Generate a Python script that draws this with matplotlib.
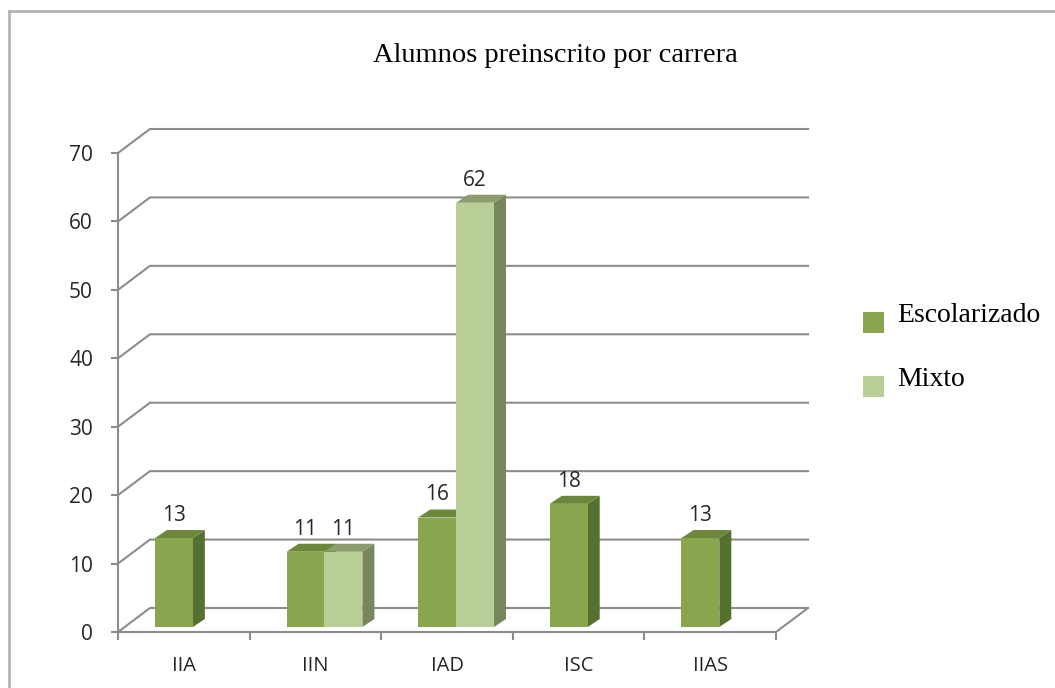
import matplotlib
matplotlib.use("Agg")
import matplotlib.pyplot as plt
from matplotlib.patches import Polygon, Rectangle
from matplotlib.lines import Line2D

plt.rcParams["font.family"] = ["Open Sans", "DejaVu Sans"]

# ── Data ─────────────────────────────────────────────────────────────────────
carreras = ["IIA", "IIN", "IAD", "ISC", "IIAS"]
escolarizado = [13, 11, 16, 18, 13]
mixto = [0, 11, 62, 0, 0]
yticks = [0, 10, 20, 30, 40, 50, 60, 70]

# ── Fake-3D geometry (category units / value units) ──────────────────────────
W, H, DPI = 1055, 688, 100
PX_CAT = 131.8            # px per category
PX_VAL = 6.843            # px per value unit
BACK_DX, BACK_DY = 32 / PX_CAT, 24 / PX_VAL     # back wall offset
BAR_DX, BAR_DY = 12 / PX_CAT, 8 / PX_VAL        # bar depth
BASE = 0.73               # bars sit slightly behind the front floor edge
SLOT0, BW = 0.281, 0.288  # left edge of first slot inside category, bar width

ESC = dict(front="#89A54E", top="#6C873B", side="#56702F")
MIX = dict(front="#B9CE96", top="#8C9C6D", side="#79865B")
GRID = "#8C8C8C"
TXT = "#262626"

fig = plt.figure(figsize=(W / DPI, H / DPI), dpi=DPI)
ax = fig.add_axes([118 / W, (H - 632) / H, 690 / W, 503 / H])
ax.set_xlim(-0.5, 4.5 + BACK_DX)
ax.set_ylim(0, 70 + BACK_DY)
for s in ax.spines.values():
    s.set_visible(False)

# gridlines: short diagonal on the side wall + back wall line
for v in yticks:
    ax.plot([-0.5, -0.5 + BACK_DX, 4.5 + BACK_DX], [v, v + BACK_DY, v + BACK_DY],
            color=GRID, lw=1.5, zorder=1, clip_on=False)
# front axes + floor edge
ax.plot([-0.5, -0.5], [0, 70], color=GRID, lw=1.5, zorder=1, clip_on=False)
ax.plot([-0.5, 4.5, 4.5 + BACK_DX], [0, 0, BACK_DY], color=GRID, lw=1.5, zorder=1, clip_on=False)


def bar3d(x0, v, c):
    b = BASE
    ax.add_patch(Polygon([(x0 + BW, b), (x0 + BW + BAR_DX, b + BAR_DY),
                          (x0 + BW + BAR_DX, b + v + BAR_DY), (x0 + BW, b + v)],
                         closed=True, fc=c["side"], ec="none", zorder=3))
    ax.add_patch(Polygon([(x0, b + v), (x0 + BW, b + v),
                          (x0 + BW + BAR_DX, b + v + BAR_DY), (x0 + BAR_DX, b + v + BAR_DY)],
                         closed=True, fc=c["top"], ec="none", zorder=3))
    ax.bar(x0, v, width=BW, bottom=b, align="edge", color=c["front"], zorder=3)
    ax.text(x0 + BW / 2, b + v + BAR_DY + 0.6, f"{v}", ha="center", va="bottom",
            fontsize=15, color=TXT, zorder=5)


for i in range(len(carreras)):
    start = i - 0.5 + SLOT0
    if escolarizado[i]:
        bar3d(start, escolarizado[i], ESC)
    if mixto[i]:
        bar3d(start + BW, mixto[i], MIX)

# ticks
ax.set_yticks(yticks)
ax.set_yticklabels([str(v) for v in yticks])
ax.tick_params(axis="y", length=5, width=1.5, color=GRID, pad=13,
               labelsize=15, labelcolor=TXT)
ax.set_xticks(range(len(carreras)))
ax.set_xticklabels(carreras)
ax.set_xticks([i - 0.5 for i in range(len(carreras) + 1)], minor=True)
ax.tick_params(axis="x", which="major", length=0, pad=17, labelsize=14.5, labelcolor=TXT)
ax.tick_params(axis="x", which="minor", length=6, width=1.5, color=GRID)

# title
fig.text(555 / W, 1 - 55 / H, "Alumnos preinscrito por carrera", ha="center", va="center",
         family="Liberation Serif", fontsize=20.5, color="#000000")

# legend (manual)
for (name, c, y_sq, y_txt) in [("Escolarizado", ESC, 312, 322), ("Mixto", MIX, 376, 386)]:
    fig.patches.append(Rectangle((863 / W, 1 - (y_sq + 21) / H), 21 / W, 21 / H,
                                 transform=fig.transFigure, fc=c["front"], ec="none"))
    fig.text(897 / W, 1 - y_txt / H, name, ha="left", va="baseline",
             family="Liberation Serif", fontsize=20, color="#000000")

# chart frame (top and left edges visible)
fig.add_artist(Line2D([9 / W, 9 / W], [0, 1 - 11 / H], transform=fig.transFigure,
                      color="#B4B4B4", lw=2))
fig.add_artist(Line2D([9 / W, 1], [1 - 11 / H, 1 - 11 / H], transform=fig.transFigure,
                      color="#B4B4B4", lw=2))

fig.savefig("out.png", dpi=DPI)
